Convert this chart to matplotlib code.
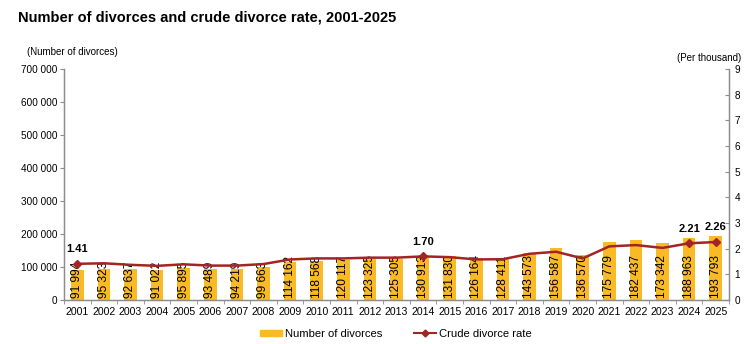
import matplotlib
matplotlib.use("Agg")
import matplotlib.pyplot as plt
from matplotlib.lines import Line2D
from matplotlib.patches import Patch

plt.rcParams['font.family'] = ['Liberation Sans', 'DejaVu Sans']

years = [str(y) for y in range(2001, 2026)]
divorces = [91994, 95323, 92637, 91022, 95895, 93489, 94219, 99663, 114162, 118568,
            120117, 123325, 125305, 130913, 131830, 126164, 128411, 143573, 156587,
            136570, 175779, 182437, 173342, 188963, 193793]
rate = [1.41, 1.43, 1.37, 1.33, 1.39, 1.34, 1.34, 1.40, 1.58, 1.62,
        1.62, 1.65, 1.65, 1.70, 1.67, 1.58, 1.59, 1.80, 1.88,
        1.62, 2.09, 2.14, 2.03, 2.21, 2.26]
labeled_years = ['2001', '2014', '2024', '2025']

bar_color = '#F9BA26'
line_color = '#A32424'
axis_color = '#8C8C8C'

fig = plt.figure(figsize=(7.51, 3.44), dpi=100)
ax = fig.add_axes([0.0852, 0.128, 0.8855, 0.671])
ax2 = ax.twinx()

x = list(range(len(years)))
ax.bar(x, divorces, width=0.47, color=bar_color, zorder=2)
ax.set_xlim(-0.5, len(years) - 0.5)
ax.set_ylim(0, 700000)
ax.set_yticks(range(0, 700001, 100000))
ax.set_yticklabels(['0' if v == 0 else f"{v//1000} 000" for v in range(0, 700001, 100000)])
ax.set_xticks(x)
ax.set_xticklabels(years)
ax.set_xticks([i - 0.5 for i in range(len(years) + 1)], minor=True)
ax.tick_params(axis='x', which='major', length=0, labelsize=7.6, pad=5)
ax.tick_params(axis='x', which='minor', length=3, color=axis_color)
ax.tick_params(axis='y', length=3, color=axis_color, labelsize=7.2, pad=2)

for i, v in enumerate(divorces):
    s = f"{v:,}".replace(',', ' ')
    ax.annotate(s, xy=(i, 0), xytext=(0, 1.5), textcoords='offset points',
                rotation=90, ha='center', va='bottom', fontsize=8.6, zorder=4)

mk = [years.index(y) for y in labeled_years]
ax2.plot(x, rate, color=line_color, lw=1.8, marker='D', markersize=4.5,
         markevery=mk, zorder=5)
ax2.set_ylim(0, 9)
ax2.set_yticks(range(0, 10))
ax2.tick_params(axis='y', direction='in', length=3, color=axis_color, labelsize=7.2, pad=4)
for i in mk:
    ax2.annotate(f"{rate[i]:.2f}", xy=(i, rate[i]), xytext=(0, 7), textcoords='offset points',
                 ha='center', va='bottom', fontsize=8, fontweight='bold')

for a in (ax, ax2):
    a.spines['top'].set_visible(False)
    for s in ('left', 'right', 'bottom'):
        a.spines[s].set_color(axis_color)
        a.spines[s].set_linewidth(0.9)
ax.set_zorder(ax2.get_zorder() - 1)
ax.patch.set_visible(False)

fig.text(0.024, 0.95, "Number of divorces and crude divorce rate, 2001-2025",
         fontsize=10.5, fontweight='bold', va='center', ha='left')
fig.text(0.036, 0.848, "(Number of divorces)", fontsize=7, va='center', ha='left')
fig.text(0.987, 0.83, "(Per thousand)", fontsize=7, va='center', ha='right')

handles = [Patch(color=bar_color),
           Line2D([0], [0], color=line_color, lw=1.5, marker='D', markersize=3.5)]
fig.legend(handles, ["Number of divorces", "Crude divorce rate"], loc='center',
           bbox_to_anchor=(0.527, 0.03), ncol=2, frameon=False, fontsize=8.1,
           handlelength=2.0, handleheight=0.45, columnspacing=2.8, handletextpad=0.25)

fig.savefig("out.png", dpi=100)
